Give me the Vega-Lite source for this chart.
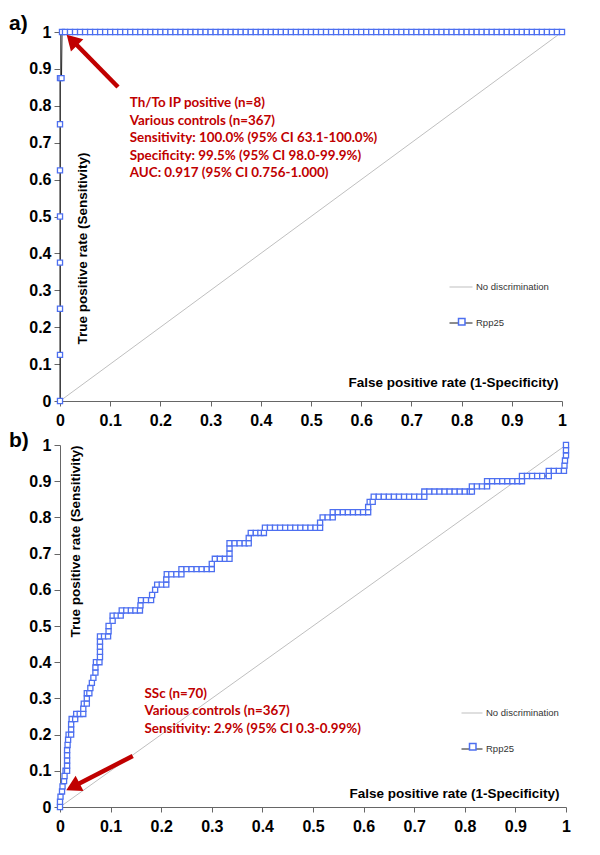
{
  "$schema": "https://vega.github.io/schema/vega-lite/v6.json",
  "background": "white",
  "padding": {"left": 9, "top": 13, "right": 0, "bottom": 0},
  "config": {
    "view": {"stroke": null},
    "axis": {"domainColor": "#666666", "domainWidth": 1, "tickColor": "#666666", "labelFont": "Liberation Sans", "labelFontSize": 16, "labelFontWeight": "bold", "labelColor": "#000000", "titleFont": "Liberation Sans", "titleFontSize": 13.5, "titleFontWeight": "bold", "titleColor": "#000000", "grid": false, "labelFlush": false, "labelOverlap": false},
    "legend": {"padding": 0, "offset": 0, "symbolOffset": 0, "labelFont": "Liberation Sans", "labelFontSize": 9.5, "labelColor": "#333333", "labelOffset": 3}
  },
  "datasets": {
    "diag": [{"fpr": 0, "tpr": 0}, {"fpr": 1, "tpr": 1}],
    "rocA": [
      {"fpr": 0, "tpr": 0}, {"fpr": 0, "tpr": 0.125}, {"fpr": 0, "tpr": 0.25}, {"fpr": 0, "tpr": 0.375}, {"fpr": 0, "tpr": 0.5}, {"fpr": 0, "tpr": 0.625}, {"fpr": 0, "tpr": 0.75}, {"fpr": 0, "tpr": 0.875}, {"fpr": 0.003, "tpr": 0.875}, {"fpr": 0.004, "tpr": 1},
      {"fpr": 0.01, "tpr": 1}, {"fpr": 0.02, "tpr": 1}, {"fpr": 0.03, "tpr": 1}, {"fpr": 0.04, "tpr": 1}, {"fpr": 0.05, "tpr": 1}, {"fpr": 0.06, "tpr": 1}, {"fpr": 0.07, "tpr": 1}, {"fpr": 0.08, "tpr": 1}, {"fpr": 0.09, "tpr": 1}, {"fpr": 0.1, "tpr": 1},
      {"fpr": 0.11, "tpr": 1}, {"fpr": 0.12, "tpr": 1}, {"fpr": 0.13, "tpr": 1}, {"fpr": 0.14, "tpr": 1}, {"fpr": 0.15, "tpr": 1}, {"fpr": 0.16, "tpr": 1}, {"fpr": 0.17, "tpr": 1}, {"fpr": 0.18, "tpr": 1}, {"fpr": 0.19, "tpr": 1}, {"fpr": 0.2, "tpr": 1},
      {"fpr": 0.21, "tpr": 1}, {"fpr": 0.22, "tpr": 1}, {"fpr": 0.23, "tpr": 1}, {"fpr": 0.24, "tpr": 1}, {"fpr": 0.25, "tpr": 1}, {"fpr": 0.26, "tpr": 1}, {"fpr": 0.27, "tpr": 1}, {"fpr": 0.28, "tpr": 1}, {"fpr": 0.29, "tpr": 1}, {"fpr": 0.3, "tpr": 1},
      {"fpr": 0.31, "tpr": 1}, {"fpr": 0.32, "tpr": 1}, {"fpr": 0.33, "tpr": 1}, {"fpr": 0.34, "tpr": 1}, {"fpr": 0.35, "tpr": 1}, {"fpr": 0.36, "tpr": 1}, {"fpr": 0.37, "tpr": 1}, {"fpr": 0.38, "tpr": 1}, {"fpr": 0.39, "tpr": 1}, {"fpr": 0.4, "tpr": 1},
      {"fpr": 0.41, "tpr": 1}, {"fpr": 0.42, "tpr": 1}, {"fpr": 0.43, "tpr": 1}, {"fpr": 0.44, "tpr": 1}, {"fpr": 0.45, "tpr": 1}, {"fpr": 0.46, "tpr": 1}, {"fpr": 0.47, "tpr": 1}, {"fpr": 0.48, "tpr": 1}, {"fpr": 0.49, "tpr": 1}, {"fpr": 0.5, "tpr": 1},
      {"fpr": 0.51, "tpr": 1}, {"fpr": 0.52, "tpr": 1}, {"fpr": 0.53, "tpr": 1}, {"fpr": 0.54, "tpr": 1}, {"fpr": 0.55, "tpr": 1}, {"fpr": 0.56, "tpr": 1}, {"fpr": 0.57, "tpr": 1}, {"fpr": 0.58, "tpr": 1}, {"fpr": 0.59, "tpr": 1}, {"fpr": 0.6, "tpr": 1},
      {"fpr": 0.61, "tpr": 1}, {"fpr": 0.62, "tpr": 1}, {"fpr": 0.63, "tpr": 1}, {"fpr": 0.64, "tpr": 1}, {"fpr": 0.65, "tpr": 1}, {"fpr": 0.66, "tpr": 1}, {"fpr": 0.67, "tpr": 1}, {"fpr": 0.68, "tpr": 1}, {"fpr": 0.69, "tpr": 1}, {"fpr": 0.7, "tpr": 1},
      {"fpr": 0.71, "tpr": 1}, {"fpr": 0.72, "tpr": 1}, {"fpr": 0.73, "tpr": 1}, {"fpr": 0.74, "tpr": 1}, {"fpr": 0.75, "tpr": 1}, {"fpr": 0.76, "tpr": 1}, {"fpr": 0.77, "tpr": 1}, {"fpr": 0.78, "tpr": 1}, {"fpr": 0.79, "tpr": 1}, {"fpr": 0.8, "tpr": 1},
      {"fpr": 0.81, "tpr": 1}, {"fpr": 0.82, "tpr": 1}, {"fpr": 0.83, "tpr": 1}, {"fpr": 0.84, "tpr": 1}, {"fpr": 0.85, "tpr": 1}, {"fpr": 0.86, "tpr": 1}, {"fpr": 0.87, "tpr": 1}, {"fpr": 0.88, "tpr": 1}, {"fpr": 0.89, "tpr": 1}, {"fpr": 0.9, "tpr": 1},
      {"fpr": 0.91, "tpr": 1}, {"fpr": 0.92, "tpr": 1}, {"fpr": 0.93, "tpr": 1}, {"fpr": 0.94, "tpr": 1}, {"fpr": 0.95, "tpr": 1}, {"fpr": 0.96, "tpr": 1}, {"fpr": 0.97, "tpr": 1}, {"fpr": 0.98, "tpr": 1}, {"fpr": 0.99, "tpr": 1}, {"fpr": 1, "tpr": 1}
    ],
    "rocB": [
      {"fpr": 0, "tpr": 0}, {"fpr": 0, "tpr": 0.0143}, {"fpr": 0.001, "tpr": 0.0286}, {"fpr": 0.004, "tpr": 0.0429}, {"fpr": 0.005, "tpr": 0.0571}, {"fpr": 0.008, "tpr": 0.0714}, {"fpr": 0.009, "tpr": 0.0857}, {"fpr": 0.011, "tpr": 0.1}, {"fpr": 0.014, "tpr": 0.1},
      {"fpr": 0.014, "tpr": 0.1143}, {"fpr": 0.014, "tpr": 0.1286}, {"fpr": 0.014, "tpr": 0.1429}, {"fpr": 0.014, "tpr": 0.1571}, {"fpr": 0.015, "tpr": 0.1714}, {"fpr": 0.016, "tpr": 0.1857}, {"fpr": 0.017, "tpr": 0.2}, {"fpr": 0.022, "tpr": 0.2},
      {"fpr": 0.022, "tpr": 0.2143}, {"fpr": 0.022, "tpr": 0.2286}, {"fpr": 0.023, "tpr": 0.2429}, {"fpr": 0.03, "tpr": 0.2429}, {"fpr": 0.032, "tpr": 0.2571}, {"fpr": 0.039, "tpr": 0.2571}, {"fpr": 0.046, "tpr": 0.2571},
      {"fpr": 0.046, "tpr": 0.2714}, {"fpr": 0.047, "tpr": 0.2857}, {"fpr": 0.053, "tpr": 0.2857}, {"fpr": 0.053, "tpr": 0.3}, {"fpr": 0.053, "tpr": 0.3143}, {"fpr": 0.058, "tpr": 0.3143}, {"fpr": 0.06, "tpr": 0.3286},
      {"fpr": 0.063, "tpr": 0.3429}, {"fpr": 0.066, "tpr": 0.3571}, {"fpr": 0.07, "tpr": 0.3714}, {"fpr": 0.07, "tpr": 0.3857}, {"fpr": 0.071, "tpr": 0.4}, {"fpr": 0.078, "tpr": 0.4}, {"fpr": 0.079, "tpr": 0.4143},
      {"fpr": 0.079, "tpr": 0.4286}, {"fpr": 0.079, "tpr": 0.4429}, {"fpr": 0.079, "tpr": 0.4571}, {"fpr": 0.079, "tpr": 0.4714}, {"fpr": 0.087, "tpr": 0.4714}, {"fpr": 0.095, "tpr": 0.4714}, {"fpr": 0.096, "tpr": 0.4857},
      {"fpr": 0.096, "tpr": 0.5}, {"fpr": 0.104, "tpr": 0.5143}, {"fpr": 0.104, "tpr": 0.5286}, {"fpr": 0.112, "tpr": 0.5286}, {"fpr": 0.12, "tpr": 0.5286}, {"fpr": 0.122, "tpr": 0.5429}, {"fpr": 0.131, "tpr": 0.5429},
      {"fpr": 0.14, "tpr": 0.5429}, {"fpr": 0.149, "tpr": 0.5429}, {"fpr": 0.158, "tpr": 0.5429}, {"fpr": 0.159, "tpr": 0.5571}, {"fpr": 0.16, "tpr": 0.5714}, {"fpr": 0.17, "tpr": 0.5714}, {"fpr": 0.18, "tpr": 0.5714},
      {"fpr": 0.182, "tpr": 0.5857}, {"fpr": 0.188, "tpr": 0.6}, {"fpr": 0.192, "tpr": 0.6143}, {"fpr": 0.201, "tpr": 0.6143}, {"fpr": 0.21, "tpr": 0.6143}, {"fpr": 0.21, "tpr": 0.6286}, {"fpr": 0.211, "tpr": 0.6429},
      {"fpr": 0.22, "tpr": 0.6429}, {"fpr": 0.23, "tpr": 0.6429}, {"fpr": 0.24, "tpr": 0.6429}, {"fpr": 0.24, "tpr": 0.6571}, {"fpr": 0.25, "tpr": 0.6571}, {"fpr": 0.26, "tpr": 0.6571}, {"fpr": 0.27, "tpr": 0.6571},
      {"fpr": 0.28, "tpr": 0.6571}, {"fpr": 0.29, "tpr": 0.6571}, {"fpr": 0.3, "tpr": 0.6571}, {"fpr": 0.3, "tpr": 0.6714}, {"fpr": 0.306, "tpr": 0.6857}, {"fpr": 0.316, "tpr": 0.6857}, {"fpr": 0.326, "tpr": 0.6857},
      {"fpr": 0.335, "tpr": 0.6857}, {"fpr": 0.335, "tpr": 0.7}, {"fpr": 0.335, "tpr": 0.7143}, {"fpr": 0.335, "tpr": 0.7286}, {"fpr": 0.345, "tpr": 0.7286}, {"fpr": 0.355, "tpr": 0.7286}, {"fpr": 0.365, "tpr": 0.7286},
      {"fpr": 0.373, "tpr": 0.7286}, {"fpr": 0.373, "tpr": 0.7429}, {"fpr": 0.377, "tpr": 0.7571}, {"fpr": 0.387, "tpr": 0.7571}, {"fpr": 0.396, "tpr": 0.7571}, {"fpr": 0.403, "tpr": 0.7571}, {"fpr": 0.405, "tpr": 0.7714},
      {"fpr": 0.415, "tpr": 0.7714}, {"fpr": 0.425, "tpr": 0.7714}, {"fpr": 0.435, "tpr": 0.7714}, {"fpr": 0.445, "tpr": 0.7714}, {"fpr": 0.455, "tpr": 0.7714}, {"fpr": 0.465, "tpr": 0.7714}, {"fpr": 0.475, "tpr": 0.7714},
      {"fpr": 0.485, "tpr": 0.7714}, {"fpr": 0.495, "tpr": 0.7714}, {"fpr": 0.505, "tpr": 0.7714}, {"fpr": 0.514, "tpr": 0.7714}, {"fpr": 0.514, "tpr": 0.7857}, {"fpr": 0.519, "tpr": 0.8}, {"fpr": 0.529, "tpr": 0.8},
      {"fpr": 0.539, "tpr": 0.8}, {"fpr": 0.539, "tpr": 0.8143}, {"fpr": 0.549, "tpr": 0.8143}, {"fpr": 0.559, "tpr": 0.8143}, {"fpr": 0.569, "tpr": 0.8143}, {"fpr": 0.579, "tpr": 0.8143}, {"fpr": 0.589, "tpr": 0.8143},
      {"fpr": 0.599, "tpr": 0.8143}, {"fpr": 0.609, "tpr": 0.8143}, {"fpr": 0.609, "tpr": 0.8286}, {"fpr": 0.612, "tpr": 0.8429}, {"fpr": 0.618, "tpr": 0.8429}, {"fpr": 0.62, "tpr": 0.8571}, {"fpr": 0.63, "tpr": 0.8571},
      {"fpr": 0.64, "tpr": 0.8571}, {"fpr": 0.65, "tpr": 0.8571}, {"fpr": 0.66, "tpr": 0.8571}, {"fpr": 0.67, "tpr": 0.8571}, {"fpr": 0.68, "tpr": 0.8571}, {"fpr": 0.69, "tpr": 0.8571}, {"fpr": 0.7, "tpr": 0.8571},
      {"fpr": 0.71, "tpr": 0.8571}, {"fpr": 0.72, "tpr": 0.8571}, {"fpr": 0.72, "tpr": 0.8714}, {"fpr": 0.73, "tpr": 0.8714}, {"fpr": 0.74, "tpr": 0.8714}, {"fpr": 0.75, "tpr": 0.8714}, {"fpr": 0.76, "tpr": 0.8714},
      {"fpr": 0.77, "tpr": 0.8714}, {"fpr": 0.78, "tpr": 0.8714}, {"fpr": 0.79, "tpr": 0.8714}, {"fpr": 0.8, "tpr": 0.8714}, {"fpr": 0.81, "tpr": 0.8714}, {"fpr": 0.814, "tpr": 0.8714}, {"fpr": 0.814, "tpr": 0.8857},
      {"fpr": 0.824, "tpr": 0.8857}, {"fpr": 0.834, "tpr": 0.8857}, {"fpr": 0.844, "tpr": 0.8857}, {"fpr": 0.844, "tpr": 0.9}, {"fpr": 0.854, "tpr": 0.9}, {"fpr": 0.864, "tpr": 0.9}, {"fpr": 0.874, "tpr": 0.9},
      {"fpr": 0.884, "tpr": 0.9}, {"fpr": 0.894, "tpr": 0.9}, {"fpr": 0.904, "tpr": 0.9}, {"fpr": 0.913, "tpr": 0.9}, {"fpr": 0.913, "tpr": 0.9143}, {"fpr": 0.923, "tpr": 0.9143}, {"fpr": 0.933, "tpr": 0.9143},
      {"fpr": 0.943, "tpr": 0.9143}, {"fpr": 0.953, "tpr": 0.9143}, {"fpr": 0.966, "tpr": 0.9143}, {"fpr": 0.966, "tpr": 0.9286}, {"fpr": 0.976, "tpr": 0.9286}, {"fpr": 0.986, "tpr": 0.9286}, {"fpr": 0.996, "tpr": 0.9286},
      {"fpr": 0.997, "tpr": 0.9429}, {"fpr": 0.998, "tpr": 0.9571}, {"fpr": 1, "tpr": 0.9714}, {"fpr": 1, "tpr": 0.9857}, {"fpr": 1, "tpr": 1}
    ]
  },
  "vconcat": [
    {
      "width": 502,
      "height": 369,
      "title": {"text": "a)", "anchor": "start", "frame": "group", "align": "left", "dx": -51, "dy": 27, "offset": 0, "baseline": "alphabetic", "font": "Liberation Sans", "fontSize": 21, "fontWeight": "bold", "color": "#000000"},
      "layer": [
        {
          "data": {"name": "diag"},
          "mark": {"type": "line", "strokeWidth": 1},
          "encoding": {
            "x": {"field": "fpr", "type": "quantitative", "scale": {"domain": [0, 1], "nice": false, "zero": false},
              "axis": {"values": [0, 0.1, 0.2, 0.3, 0.4, 0.5, 0.6, 0.7, 0.8, 0.9, 1], "tickCount": 20, "format": "~g", "labelOverlap": false, "tickSize": 5, "labelPadding": 6, "title": "False positive rate (1-Specificity)", "titleX": 498, "titleY": -19, "titleAlign": "right", "titleBaseline": "middle", "titleAngle": 0}},
            "y": {"field": "tpr", "type": "quantitative", "scale": {"domain": [0, 1], "nice": false, "zero": false},
              "axis": {"values": [0, 0.1, 0.2, 0.3, 0.4, 0.5, 0.6, 0.7, 0.8, 0.9, 1], "tickCount": 20, "format": "~g", "labelOverlap": false, "tickSize": 6, "labelPadding": 3, "title": "True positive rate (Sensitivity)", "titleX": 22, "titleY": 216, "titleAngle": 270, "titleAlign": "center", "titleBaseline": "middle"}},
            "stroke": {"datum": "No discrimination", "type": "nominal",
              "scale": {"domain": ["No discrimination", "Rpp25"], "range": ["#bfbfbf", "#1a1a1a"]},
              "legend": {"orient": "none", "legendX": 389, "legendY": 243, "title": null, "symbolType": "stroke", "symbolSize": 529, "symbolStrokeWidth": 1, "rowPadding": 19,
                "encode": {"symbols": {"update": {"shape": [{"test": "datum.value === 'Rpp25'", "value": "M-1,0H-0.22M0.22,0H1"}, {"value": "stroke"}]}}}}}
          }
        },
        {
          "data": {"name": "rocA"},
          "mark": {"type": "line", "strokeWidth": 1},
          "encoding": {
            "x": {"field": "fpr", "type": "quantitative"},
            "y": {"field": "tpr", "type": "quantitative"},
            "order": {"value": null},
            "stroke": {"datum": "Rpp25", "type": "nominal"}
          }
        },
        {
          "data": {"name": "rocA"},
          "mark": {"type": "point", "fill": "#ffffff", "stroke": "#4d6ff0", "strokeWidth": 1.3, "size": 26, "opacity": 1, "filled": false},
          "encoding": {
            "x": {"field": "fpr", "type": "quantitative"},
            "y": {"field": "tpr", "type": "quantitative"},
            "shape": {"datum": "Rpp25", "type": "nominal", "scale": {"range": ["square"]},
              "legend": {"orient": "none", "legendX": 397, "legendY": 285, "title": null, "symbolSize": 42, "labelExpr": "''",
                "encode": {"symbols": {"update": {"shape": {"value": "M-1,-1H1V1H-1Z M-0.6,-0.6V0.6H0.6V-0.6Z"}, "fill": {"value": "#4d6ff0"}, "fillOpacity": {"value": 1}, "stroke": {"value": "transparent"}, "opacity": {"value": 1}}}}}}
          }
        },
        {
          "data": {"values": [{}]},
          "mark": {"type": "rule", "color": "#c00000", "strokeWidth": 4.5},
          "encoding": {"x": {"datum": 0.1155}, "y": {"datum": 0.8509}, "x2": {"datum": 0.0237}, "y2": {"datum": 0.9783}}
        },
        {
          "data": {"values": [{}]},
          "mark": {"type": "point", "shape": "triangle-up", "angle": 315.6, "size": 300, "filled": true, "color": "#c00000", "opacity": 1},
          "encoding": {"x": {"datum": 0.0237}, "y": {"datum": 0.9783}}
        },
        {
          "data": {"values": [{}]},
          "mark": {"type": "text", "text": ["Th/To IP positive (n=8)", "Various controls (n=367)", "Sensitivity: 100.0% (95% CI 63.1-100.0%)", "Specificity: 99.5% (95% CI 98.0-99.9%)", "AUC: 0.917 (95% CI 0.756-1.000)"], "align": "left", "baseline": "top", "lineHeight": 17.5, "font": "Lato", "fontSize": 13.4, "fontWeight": "bold", "color": "#c00000"},
          "encoding": {"x": {"datum": 0.139}, "y": {"datum": 0.8257}}
        }
      ]
    },
    {
      "width": 506,
      "height": 362,
      "title": {"text": "b)", "anchor": "start", "frame": "group", "align": "left", "dx": -51, "dy": 31, "offset": 0, "baseline": "alphabetic", "font": "Liberation Sans", "fontSize": 21, "fontWeight": "bold", "color": "#000000"},
      "layer": [
        {
          "data": {"name": "diag"},
          "mark": {"type": "line", "strokeWidth": 1},
          "encoding": {
            "x": {"field": "fpr", "type": "quantitative", "scale": {"domain": [0, 1], "nice": false, "zero": false},
              "axis": {"values": [0, 0.1, 0.2, 0.3, 0.4, 0.5, 0.6, 0.7, 0.8, 0.9, 1], "tickCount": 20, "format": "~g", "labelOverlap": false, "tickSize": 5, "labelPadding": 6, "title": "False positive rate (1-Specificity)", "titleX": 499, "titleY": -14, "titleAlign": "right", "titleBaseline": "middle", "titleAngle": 0}},
            "y": {"field": "tpr", "type": "quantitative", "scale": {"domain": [0, 1], "nice": false, "zero": false},
              "axis": {"values": [0, 0.1, 0.2, 0.3, 0.4, 0.5, 0.6, 0.7, 0.8, 0.9, 1], "tickCount": 20, "format": "~g", "labelOverlap": false, "tickSize": 6, "labelPadding": 3, "title": "True positive rate (Sensitivity)", "titleX": 15, "titleY": 96, "titleAngle": 270, "titleAlign": "center", "titleBaseline": "middle"}},
            "stroke": {"datum": "No discrimination", "type": "nominal",
              "scale": {"domain": ["No discrimination", "Rpp25"], "range": ["#bfbfbf", "#1a1a1a"]},
              "legend": {"orient": "none", "legendX": 401, "legendY": 257, "title": null, "symbolType": "stroke", "symbolSize": 441, "symbolStrokeWidth": 1, "rowPadding": 20,
                "encode": {"symbols": {"update": {"shape": [{"test": "datum.value === 'Rpp25'", "value": "M-1,0H-0.22M0.22,0H1"}, {"value": "stroke"}]}}}}}
          }
        },
        {
          "data": {"name": "rocB"},
          "mark": {"type": "line", "strokeWidth": 1},
          "encoding": {
            "x": {"field": "fpr", "type": "quantitative"},
            "y": {"field": "tpr", "type": "quantitative"},
            "order": {"value": null},
            "stroke": {"datum": "Rpp25", "type": "nominal"}
          }
        },
        {
          "data": {"name": "rocB"},
          "mark": {"type": "point", "fill": "#ffffff", "stroke": "#4d6ff0", "strokeWidth": 1.3, "size": 26, "opacity": 1, "filled": false},
          "encoding": {
            "x": {"field": "fpr", "type": "quantitative"},
            "y": {"field": "tpr", "type": "quantitative"},
            "shape": {"datum": "Rpp25", "type": "nominal", "scale": {"range": ["square"]},
              "legend": {"orient": "none", "legendX": 408, "legendY": 297, "title": null, "symbolSize": 42, "labelExpr": "''",
                "encode": {"symbols": {"update": {"shape": {"value": "M-1,-1H1V1H-1Z M-0.6,-0.6V0.6H0.6V-0.6Z"}, "fill": {"value": "#4d6ff0"}, "fillOpacity": {"value": 1}, "stroke": {"value": "transparent"}, "opacity": {"value": 1}}}}}}
          }
        },
        {
          "data": {"values": [{}]},
          "mark": {"type": "rule", "color": "#c00000", "strokeWidth": 4.5},
          "encoding": {"x": {"datum": 0.1437}, "y": {"datum": 0.1409}, "x2": {"datum": 0.0255}, "y2": {"datum": 0.0558}}
        },
        {
          "data": {"values": [{}]},
          "mark": {"type": "point", "shape": "triangle-up", "angle": 242.7, "size": 300, "filled": true, "color": "#c00000", "opacity": 1},
          "encoding": {"x": {"datum": 0.0255}, "y": {"datum": 0.0558}}
        },
        {
          "data": {"values": [{}]},
          "mark": {"type": "text", "text": ["SSc (n=70)", "Various controls (n=367)", "Sensitivity: 2.9% (95% CI 0.3-0.99%)"], "align": "left", "baseline": "top", "lineHeight": 17.5, "font": "Lato", "fontSize": 13.4, "fontWeight": "bold", "color": "#c00000"},
          "encoding": {"x": {"datum": 0.167}, "y": {"datum": 0.3326}}
        }
      ]
    }
  ],
  "spacing": 44,
  "bounds": "flush",
  "resolve": {
    "scale": {"stroke": "independent", "shape": "independent", "x": "independent", "y": "independent"},
    "legend": {"stroke": "independent", "shape": "independent"}
  }
}
